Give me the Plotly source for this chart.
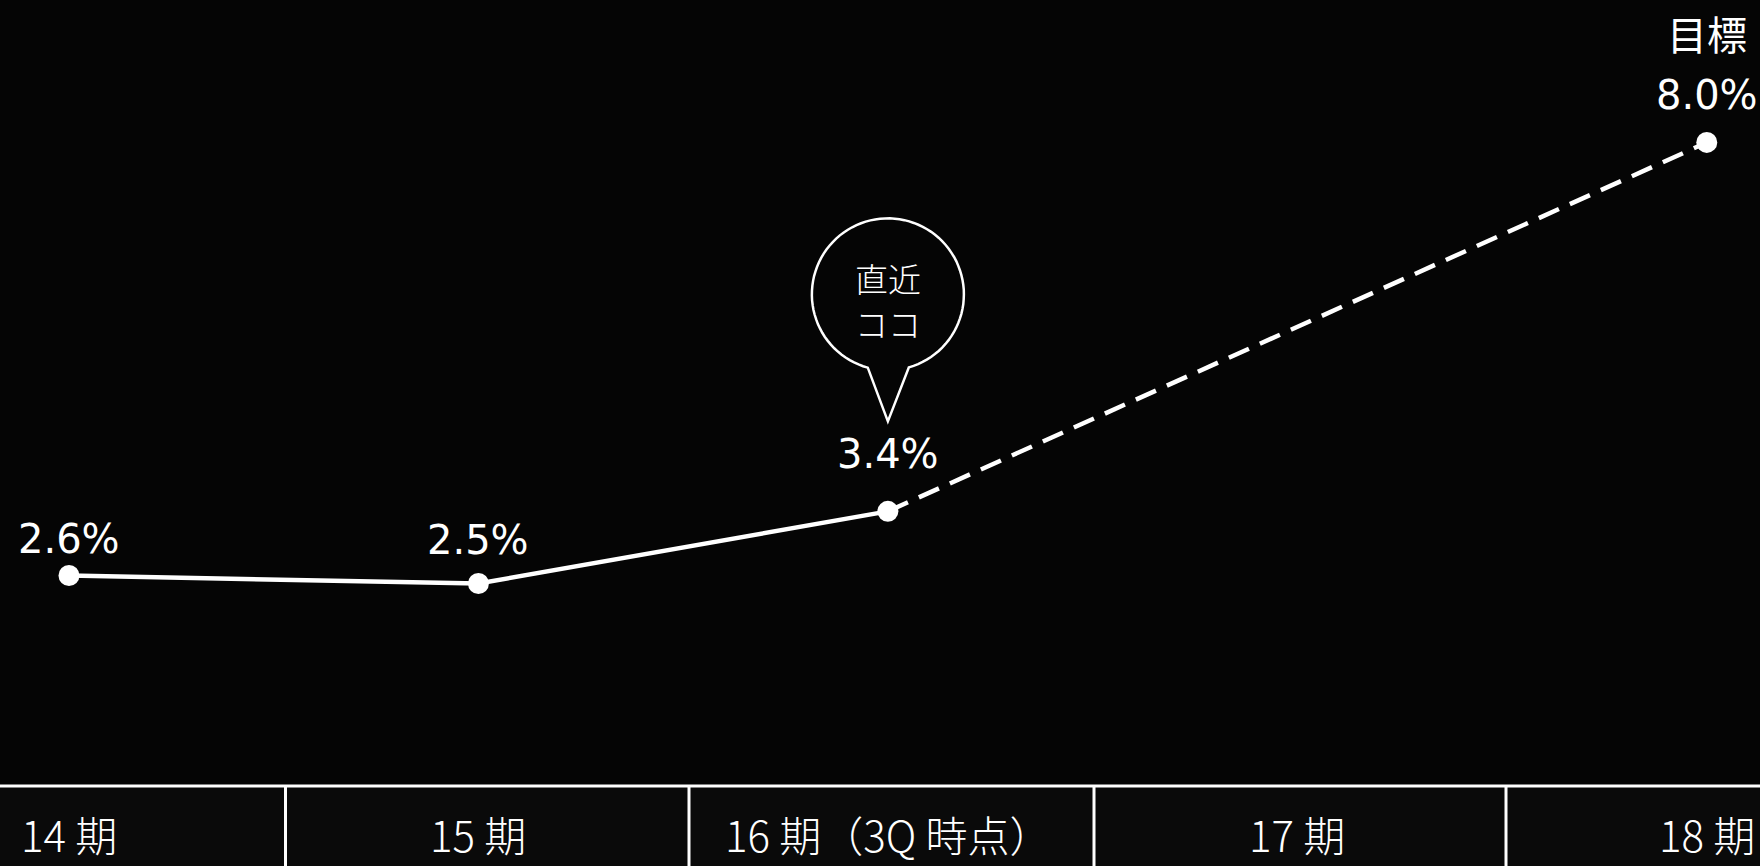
import numpy as np
import plotly.graph_objects as go

# Fiscal periods and the ratio (%) for each; 17期 has no value yet
periods = ["14 期", "15 期", "16 期（3Q 時点）", "17 期", "18 期"]
actual_idx = [0, 1, 2]
actual_vals = [2.6, 2.5, 3.4]
target_idx = [2, 4]
target_vals = [3.4, 8.0]
point_idx = [0, 1, 2, 4]
point_vals = [2.6, 2.5, 3.4, 8.0]
point_labels = ["2.6%", "2.5%", "3.4%", "8.0%"]
label_shift = [37, 44, 57, 47]

W, H = 1760, 866
BG_TOP = "#050505"
BG_TABLE = "#0a0a0a"
WHITE = "#ffffff"
NUM_FONT = "DejaVu Sans"
JP_FONT = "Noto Sans CJK JP"

fig = go.Figure()

# solid line for actual results
fig.add_trace(go.Scatter(
    x=actual_idx, y=actual_vals, mode="lines",
    line=dict(color=WHITE, width=4.5), hoverinfo="skip", showlegend=False))

# dashed line toward the target
fig.add_trace(go.Scatter(
    x=target_idx, y=target_vals, mode="lines",
    line=dict(color=WHITE, width=4.5, dash="22px,12px"),
    hoverinfo="skip", showlegend=False))

# points
fig.add_trace(go.Scatter(
    x=point_idx, y=point_vals, mode="markers",
    marker=dict(color=WHITE, size=21, line=dict(width=0)),
    hoverinfo="skip", showlegend=False))

annotations = []
for xi, v, t, s in zip(point_idx, point_vals, point_labels, label_shift):
    annotations.append(dict(
        x=xi, y=v, xref="x", yref="y", text=t, showarrow=False,
        yshift=s, xanchor="center", yanchor="middle",
        font=dict(family=NUM_FONT, size=40, color=WHITE)))

# target heading above the last point
annotations.append(dict(
    x=point_idx[-1], y=point_vals[-1], xref="x", yref="y", text="目標",
    showarrow=False, yshift=109, xanchor="center", yanchor="middle",
    font=dict(family=JP_FONT, size=40, color=WHITE)))

# speech bubble text over the latest point
for line_text, shift in (("直近", 233), ("ココ", 188)):
    annotations.append(dict(
        x=2, y=3.4, xref="x", yref="y", text=line_text,
        showarrow=False, yshift=shift, xanchor="center", yanchor="middle",
        font=dict(family=JP_FONT, size=33, color=WHITE, weight=300)))

# period labels in the bottom strip
for i, p in enumerate(periods):
    annotations.append(dict(
        x=i, y=1 - 833 / H, xref="x", yref="paper", text=p, showarrow=False,
        xanchor="center", yanchor="middle",
        font=dict(family=JP_FONT, size=42, color=WHITE, weight=300)))

# speech bubble outline (pixel offsets from the latest point)
r, cy = 76, 217
a0 = np.arctan2(144 - cy, 21)
a1 = np.arctan2(144 - cy, -20) + 2 * np.pi
angs = np.linspace(a0, a1, 90)
pts = [(r * np.cos(a), cy + r * np.sin(a)) for a in angs]
path = "M {:.1f},{:.1f} ".format(*pts[0])
path += " ".join("L {:.1f},{:.1f}".format(px, py) for px, py in pts[1:])
path += " L 0,90 Z"

strip_top = 1 - 786 / H
dividers = [285.5, 689, 1094, 1506]

shapes = [
    dict(type="rect", xref="paper", yref="paper", x0=0, x1=1, y0=0, y1=strip_top,
         fillcolor=BG_TABLE, line=dict(width=0), layer="below"),
    dict(type="line", xref="paper", yref="paper", x0=0, x1=1,
         y0=strip_top, y1=strip_top, line=dict(color=WHITE, width=3)),
    dict(type="path", xref="x", yref="y", xsizemode="pixel", ysizemode="pixel",
         xanchor=2, yanchor=3.4, path=path,
         line=dict(color=WHITE, width=2.5), fillcolor=BG_TOP),
]
for d in dividers:
    shapes.append(dict(type="line", xref="paper", yref="paper",
                       x0=d / W, x1=d / W, y0=0, y1=strip_top,
                       line=dict(color=WHITE, width=3)))

fig.update_layout(
    width=W, height=H,
    margin=dict(l=0, r=0, t=0, b=0),
    paper_bgcolor=BG_TOP, plot_bgcolor=BG_TOP,
    xaxis=dict(visible=False, range=[-0.1685, 4.13], fixedrange=True),
    yaxis=dict(visible=False, range=[-1.022, 9.776], fixedrange=True),
    shapes=shapes, annotations=annotations,
)

fig.write_html("out.html", config={"displayModeBar": False})
